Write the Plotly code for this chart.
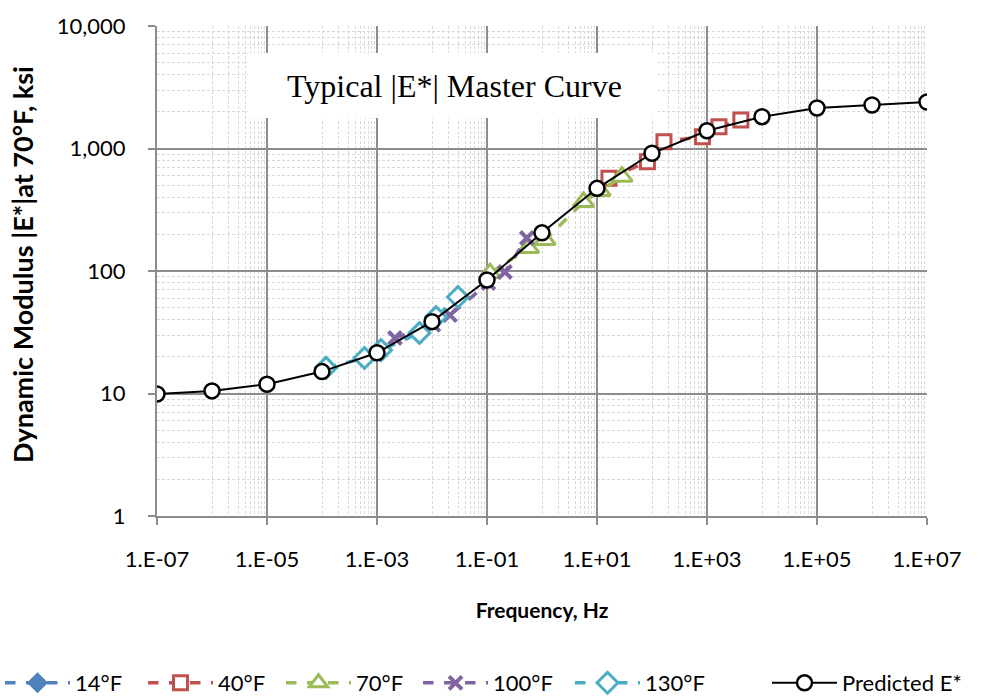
import plotly.graph_objects as go

# ---------------- data ----------------
f14 = [None]
e14 = [None]

f40 = [16.5, 82.6, 165.0, 826.0, 1652.0, 4130.0]
e40 = [571, 780, 1137, 1249, 1507, 1709]

f70 = [0.1135, 0.567, 1.135, 5.67, 11.35, 28.4]
e70 = [96, 154, 179, 366, 450, 589]

f100 = [0.00212, 0.0106, 0.0212, 0.106, 0.212, 0.53]
e100 = [28.4, 36.3, 43.7, 79.8, 98.1, 186]

f130 = [0.0001183, 0.000592, 0.001183, 0.00592, 0.01183, 0.0296]
e130 = [16.2, 19.5, 22.6, 31.2, 42.1, 61.3]

f_pred = [1e-7, 1e-6, 1e-5, 1e-4, 1e-3, 1e-2, 1e-1, 1e0, 1e1, 1e2, 1e3, 1e4, 1e5, 1e6, 1e7]
e_pred = [9.9, 10.5, 11.9, 15.1, 21.5, 38.6, 84.5, 205, 473, 914, 1397, 1818, 2142, 2265, 2398]

x_tickvals = [1e-7, 1e-5, 1e-3, 1e-1, 1e1, 1e3, 1e5, 1e7]
x_ticktext = ["1.E-07", "1.E-05", "1.E-03", "1.E-01", "1.E+01", "1.E+03", "1.E+05", "1.E+07"]
y_tickvals = [1, 10, 100, 1000, 10000]
y_ticktext = ["1", "10", "100", "1,000", "10,000"]

title_text = "Typical |E*| Master Curve"
x_title = "Frequency, Hz"
y_title = "Dynamic Modulus |E*|at 70°F, ksi"

# ---------------- style ----------------
FONT = "Lato"
MAJ = "#8c8c8c"
MIN = "#d9d9d9"
W, H = 981, 698

x_minor = []
for e in range(-6, 8, 2):
    for k in range(1, 10):
        x_minor.append(k * 10.0 ** e)
y_minor = []
for e in range(0, 4):
    for k in range(2, 10):
        y_minor.append(k * 10.0 ** e)

# legend entry left positions (px) — one small legend per series
legend_px = [0, 143, 281, 418, 570, 767]
legend_ids = ["legend", "legend2", "legend3", "legend4", "legend5", "legend6"]

fig = go.Figure()

def meas(name, x, y, color, symbol, size, lg, fill="white", lw=3):
    fig.add_trace(go.Scatter(
        x=x, y=y, name=name, mode="lines+markers", legend=lg,
        line=dict(color=color, width=3.5, dash="dash"),
        marker=dict(symbol=symbol, size=size, color=fill,
                    line=dict(color=color, width=lw)),
    ))

meas("14°F", f14, e14, "#4F81BD", "diamond", 13, "legend", fill="#4F81BD")
meas("40°F", f40, e40, "#C0504D", "square", 14, "legend2")
meas("70°F", f70, e70, "#9BBB59", "triangle-up", 18, "legend3")
meas("100°F", f100, e100, "#8064A2", "x-thin", 13, "legend4", fill="#8064A2", lw=4)
meas("130°F", f130, e130, "#4BACC6", "diamond", 16, "legend5")

fig.add_trace(go.Scatter(
    x=f_pred, y=e_pred, name="Predicted E*", mode="lines+markers", legend="legend6",
    line=dict(color="black", width=2),
    marker=dict(symbol="circle", size=15, color="white", line=dict(color="black", width=2.5)),
))

legend_layout = {}
for lid, px in zip(legend_ids, legend_px):
    legend_layout[lid] = dict(
        orientation="h", x=px / W, xanchor="left", xref="container",
        y=(H - 683) / H, yanchor="middle", yref="container",
        font=dict(family=FONT, size=22, color="black"), itemwidth=65,
        borderwidth=0, bgcolor="rgba(0,0,0,0)",
    )

fig.update_layout(
    width=W, height=H,
    margin=dict(l=157, r=54, t=26, b=182, autoexpand=False),
    paper_bgcolor="white", plot_bgcolor="white",
    font=dict(family=FONT, size=20, color="black"),
    showlegend=True,
    **legend_layout,
)

fig.update_xaxes(
    type="log", range=[-7, 7],
    tickmode="array", tickvals=x_tickvals, ticktext=x_ticktext,
    showgrid=True, gridcolor=MAJ, gridwidth=2,
    showline=True, linecolor=MAJ, linewidth=2,
    ticks="outside", ticklen=7, tickcolor=MAJ, tickwidth=1.5,
    ticklabelstandoff=16,
    tickfont=dict(family=FONT, size=22, color="black"),
    minor=dict(tickvals=x_minor, showgrid=True, gridcolor=MIN, griddash="3px,2px", gridwidth=1, ticks=""),
    title=dict(text="<b>" + x_title + "</b>", font=dict(family=FONT, size=21), standoff=32),
    zeroline=False, automargin=False,
)
fig.update_yaxes(
    type="log", range=[0, 4],
    tickmode="array", tickvals=y_tickvals, ticktext=y_ticktext,
    showgrid=True, gridcolor=MAJ, gridwidth=2,
    showline=True, linecolor=MAJ, linewidth=2,
    ticks="outside", ticklen=7, tickcolor=MAJ, tickwidth=1.5,
    ticklabelstandoff=18,
    tickfont=dict(family=FONT, size=22, color="black"),
    minor=dict(tickvals=y_minor, showgrid=True, gridcolor=MIN, griddash="3px,2px", gridwidth=1, ticks=""),
    zeroline=False, automargin=False,
)

# y axis title
fig.add_annotation(xref="paper", yref="paper", x=(22 - 157) / 770, y=(516 - 265) / 490,
                   text="<b>" + y_title + "</b>", textangle=-90, showarrow=False,
                   font=dict(family=FONT, size=27, color="black"),
                   xanchor="center", yanchor="middle")

# title box
fig.add_shape(type="rect", xref="paper", yref="paper",
              x0=(248 - 157) / 770, x1=(658 - 157) / 770,
              y0=(516 - 118) / 490, y1=(516 - 53) / 490,
              fillcolor="white", line=dict(width=0), layer="above")
fig.add_annotation(xref="paper", yref="paper",
                   x=(454 - 157) / 770, y=(516 - 86) / 490,
                   text=title_text, showarrow=False,
                   font=dict(family="Liberation Serif", size=32, color="black"),
                   xanchor="center", yanchor="middle")

fig.write_html("out.html")
